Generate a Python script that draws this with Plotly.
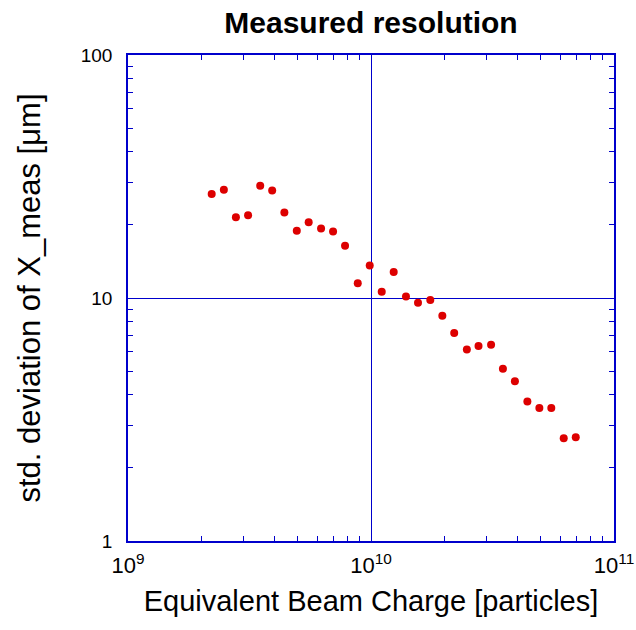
import plotly.graph_objects as go

# Data
charge = [2.21e9, 2.48e9, 2.78e9, 3.12e9, 3.50e9, 3.92e9, 4.40e9, 4.95e9, 5.54e9, 6.23e9,
          6.98e9, 7.82e9, 8.82e9, 9.88e9, 1.107e10, 1.24e10, 1.393e10, 1.561e10, 1.754e10,
          1.966e10, 2.20e10, 2.48e10, 2.77e10, 3.12e10, 3.49e10, 3.91e10, 4.40e10, 4.93e10,
          5.52e10, 6.21e10, 6.96e10]
resolution = [26.8, 27.9, 21.5, 21.9, 29.0, 27.7, 22.5, 18.9, 20.5, 19.3,
              18.8, 16.4, 11.5, 13.6, 10.6, 12.8, 10.15, 9.56, 9.81,
              8.46, 7.18, 6.14, 6.35, 6.42, 5.12, 4.54, 3.75, 3.53,
              3.53, 2.65, 2.67]

x_tickvals = [1e9, 1e10, 1e11]
x_ticktext = ["10<sup>9</sup>", "10<sup>10</sup>", "10<sup>11</sup>"]
y_tickvals = [1, 10, 100]
y_ticktext = ["1", "10", "100"]
x_minor = [m * 10 ** e for e in (9, 10) for m in range(2, 10)]
y_minor = [m * 10 ** e for e in (0, 1) for m in range(2, 10)]

BLUE = "#0000cc"
FONT = "Liberation Sans, Arial, sans-serif"

fig = go.Figure()
fig.add_trace(go.Scatter(
    x=charge, y=resolution, mode="markers",
    marker=dict(color="#dd0000", size=8, line=dict(width=0)),
    showlegend=False, hoverinfo="skip",
))

axis_common = dict(
    showline=True, linecolor=BLUE, linewidth=1.5, mirror="ticks",
    ticks="inside", ticklen=7, tickcolor=BLUE, tickwidth=1,
    showgrid=True, gridcolor=BLUE, gridwidth=1,
    zeroline=False, automargin=False,
)

fig.update_xaxes(
    type="log", range=[9, 11], tickmode="array",
    tickvals=x_tickvals, ticktext=x_ticktext,
    tickfont=dict(family=FONT, size=22, color="black"),
    ticklabelstandoff=4,
    minor=dict(tickmode="array", tickvals=x_minor, ticks="inside", ticklen=5,
               tickcolor=BLUE, tickwidth=1, showgrid=False),
    title=dict(text="Equivalent Beam Charge [particles]",
               font=dict(family=FONT, size=29, color="black"), standoff=14),
    **axis_common,
)
fig.update_yaxes(
    type="log", range=[0, 2], tickmode="array",
    tickvals=y_tickvals, ticktext=y_ticktext,
    tickfont=dict(family=FONT, size=19, color="black"),
    ticklabelstandoff=10,
    minor=dict(tickmode="array", tickvals=y_minor, ticks="inside", ticklen=5,
               tickcolor=BLUE, tickwidth=1, showgrid=False),
    title=dict(text="std. deviation of X_meas [μm]",
               font=dict(family=FONT, size=31, color="black"), standoff=31),
    **axis_common,
)

fig.update_layout(
    width=636, height=630,
    margin=dict(l=128, r=22, t=55, b=89, autoexpand=False),
    paper_bgcolor="white", plot_bgcolor="white",
    title=dict(text="<b>Measured resolution</b>", x=371 / 636, xanchor="center",
               y=1 - 22 / 630, yanchor="middle", yref="container", automargin=False,
               font=dict(family=FONT, size=30, color="black")),
)

fig.write_html("out.html", config={"displayModeBar": False},
               post_script="document.body.style.margin='0';document.body.style.padding='0';")
